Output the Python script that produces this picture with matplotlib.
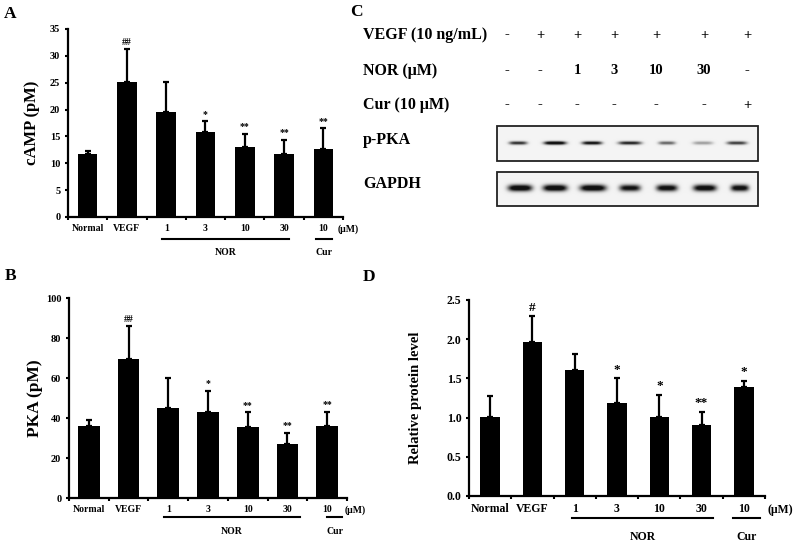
import numpy as np
import matplotlib
matplotlib.use('Agg')
import matplotlib.pyplot as plt
from matplotlib.patches import Rectangle

plt.rcParams['font.family'] = ['Liberation Serif', 'DejaVu Serif']
plt.rcParams['font.weight'] = 'bold'
plt.rcParams['axes.labelweight'] = 'bold'

groups = ['Normal', 'VEGF', '1', '3', '10', '30', '10']

# A: cAMP
camp_mean = [11.7, 25.2, 19.5, 15.9, 13.1, 11.7, 12.7]
camp_err = [0.5, 6.0, 5.6, 1.9, 2.4, 2.7, 3.8]
camp_marks = ['', '##', '', '*', '**', '**', '**']

# B: PKA
pka_mean = [35.8, 69.5, 45.0, 43.0, 35.7, 27.0, 36.2]
pka_err = [3.0, 16.3, 14.8, 10.7, 7.1, 5.5, 7.0]
pka_marks = ['', '##', '', '*', '**', '**', '**']

# D: relative p-PKA level
rel_mean = [1.01, 1.96, 1.61, 1.18, 1.01, 0.90, 1.39]
rel_err = [0.27, 0.33, 0.20, 0.32, 0.28, 0.17, 0.08]
rel_marks = ['', '#', '', '*', '*', '**', '*']

# C: blot
row_names = ['VEGF (10 ng/mL)', 'NOR (μM)', 'Cur (10 μM)']
vegf_signs = ['-', '+', '+', '+', '+', '+', '+']
nor_signs = ['-', '-', '1', '3', '10', '30', '-']
cur_signs = ['-', '-', '-', '-', '-', '-', '+']
ppka_intensity = [0.7, 1.0, 0.85, 0.75, 0.5, 0.3, 0.65]
gapdh_intensity = [1.0, 1.0, 1.0, 0.85, 0.9, 0.95, 0.9]

W, H = 795, 545
fig = plt.figure(figsize=(W / 100, H / 100), dpi=100)


def px_axes(x0, y0, x1, y1):
    # pixel box (top-left origin) -> figure axes
    return fig.add_axes([x0 / W, 1 - y1 / H, (x1 - x0) / W, (y1 - y0) / H])


def bar_panel(ax, mean, err, marks, ymax, ystep, yfmt, width, ylabel, lab_x,
              ylab_size, tick_size, cat_size, mark_size, rows, nor_span, cur_span, um_x):
    x = np.arange(len(groups))
    ax.bar(x, mean, width=width, color='black', zorder=2)
    ax.errorbar(x, mean, yerr=[np.zeros(len(mean)), err], fmt='none', ecolor='black',
                elinewidth=1.6, capsize=2.2, capthick=1.6, zorder=3)
    for xi, m, e, s in zip(x, mean, err, marks):
        if s:
            ax.annotate(s, (xi, m + e), xytext=(0, 2), textcoords='offset points',
                        ha='center', va='bottom', fontsize=mark_size)
    ax.set_xlim(-0.5, 6.5)
    ax.set_ylim(0, ymax)
    yt = np.arange(0, ymax + ystep / 2, ystep)
    ax.set_yticks(yt)
    ax.set_yticklabels([yfmt.format(v) for v in yt])
    ax.set_xticks(np.arange(-0.5, 7, 1))
    ax.set_xticklabels([])
    ax.set_xticks(x, groups, minor=True)
    ax.tick_params(axis='x', which='minor', length=0, pad=rows[0], labelsize=cat_size)
    ax.tick_params(axis='x', which='major', length=2.5, width=1.5, direction='out')
    ax.tick_params(axis='y', length=2.5, width=1.5, direction='out', labelsize=tick_size, pad=3)
    for s in ['top', 'right']:
        ax.spines[s].set_visible(False)
    for s in ['left', 'bottom']:
        ax.spines[s].set_linewidth(1.6)
    ax.set_ylabel(ylabel, fontsize=ylab_size)
    ax.yaxis.set_label_coords(lab_x, 0.5)
    tr = ax.get_xaxis_transform()
    ax.plot(nor_span, [rows[2], rows[2]], color='black', lw=1.5, transform=tr, clip_on=False)
    ax.plot(cur_span, [rows[2], rows[2]], color='black', lw=1.5, transform=tr, clip_on=False)
    ax.text(np.mean(nor_span), rows[3], 'NOR', transform=tr, ha='center', va='center', fontsize=cat_size)
    ax.text(np.mean(cur_span), rows[3], 'Cur', transform=tr, ha='center', va='center', fontsize=cat_size)
    ax.text(um_x, rows[1], '(μM)', transform=tr, ha='left', va='center', fontsize=cat_size)


# Panel A
axA = px_axes(68, 29, 343, 217)
bar_panel(axA, camp_mean, camp_err, camp_marks, 35, 5, '{:.0f}', 0.5, 'cAMP (pM)', -0.10,
          12, 7.5, 7, 7, [5, -0.064, -0.117, -0.19], (1.9, 5.12), (5.82, 6.22), 6.37)

# Panel B
axB = px_axes(69, 298, 347, 498)
bar_panel(axB, pka_mean, pka_err, pka_marks, 100, 20, '{:.0f}', 0.55, 'PKA (pM)', -0.095,
          12.5, 7.5, 7, 7, [5, -0.06, -0.095, -0.165], (1.89, 5.32), (6.0, 6.38), 6.45)

# Panel D
axD = px_axes(469, 300, 765, 496)
bar_panel(axD, rel_mean, rel_err, rel_marks, 2.5, 0.5, '{:.1f}', 0.46, 'Relative protein level', -0.16,
          10.5, 8.5, 8.5, 9.5, [5, -0.071, -0.112, -0.209], (1.93, 5.27), (5.74, 6.39), 6.55)

# Panel C: blot
axC = px_axes(355, 0, 795, 215)
axC.set_axis_off()
lane_x = [507, 540, 577, 614, 656, 704, 747]
row_y = [35, 71, 105]
for name, signs, y in zip(row_names, [vegf_signs, nor_signs, cur_signs], row_y):
    axC.text(363, y, name, ha='left', va='center', fontsize=11.5)
    for lx, s in zip(lane_x, signs):
        axC.text(lx, y, s, ha='center', va='center', fontsize=10.5)
axC.text(363, 140, 'p-PKA', ha='left', va='center', fontsize=11.5)
axC.text(363, 184, 'GAPDH', ha='left', va='center', fontsize=11.5)


def blot_image(x0, x1, y0, y1, centers, widths, inten, band_y, sigma_y):
    sc = 3
    xs = np.linspace(x0, x1, int((x1 - x0) * sc))
    ys = np.linspace(y0, y1, int((y1 - y0) * sc))
    X, Y = np.meshgrid(xs, ys)
    img = np.full(X.shape, 0.045)
    for c, w, a in zip(centers, widths, inten):
        img += 1.15 * a * np.exp(-((X - c) / (w / 2)) ** 4) * np.exp(-((Y - band_y) / sigma_y) ** 2)
    return np.clip(img, 0, 0.93)


ppka_img = blot_image(497, 758, 126, 161, [518, 555, 592, 630, 667, 703, 737],
                      [18, 22, 20, 23, 17, 20, 20], ppka_intensity, 143, 1.7)
gapdh_img = blot_image(497, 758, 172, 206, [520, 555, 593, 630, 667, 705, 740],
                       [24, 24, 26, 21, 21, 23, 18], gapdh_intensity, 188.5, 3.2)
axC.imshow(ppka_img, cmap='gray_r', vmin=0, vmax=1, extent=(497, 758, 161, 126), aspect='auto')
axC.imshow(gapdh_img, cmap='gray_r', vmin=0, vmax=1, extent=(497, 758, 206, 172), aspect='auto')
for yy0, yy1 in [(126, 161), (172, 206)]:
    axC.add_patch(Rectangle((497, yy0), 261, yy1 - yy0, fill=False, edgecolor='#222222', lw=1.3))
axC.set_xlim(355, 795)
axC.set_ylim(215, 0)

# panel letters
for letter, lx, ly in [('A', 4, 14), ('C', 350, 12), ('B', 5, 276), ('D', 363, 277)]:
    fig.text(lx / W, 1 - ly / H, letter, ha='left', va='center', fontsize=12.5)

fig.savefig('out.png', dpi=100)
